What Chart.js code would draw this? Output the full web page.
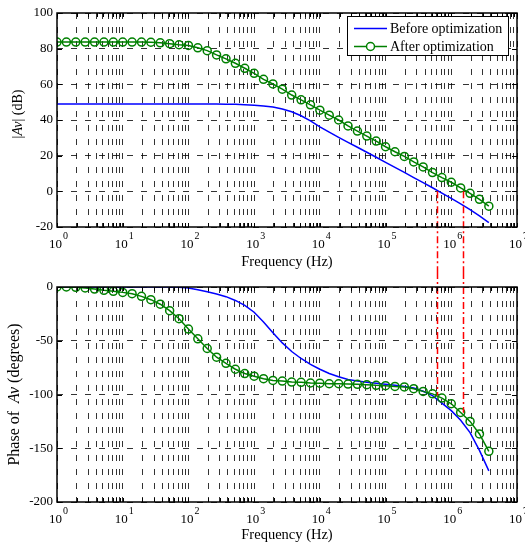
<!DOCTYPE html>
<html>
<head>
<meta charset="utf-8">
<script src="https://cdn.jsdelivr.net/npm/chart.js@4.4.1/dist/chart.umd.min.js"></script>
<style>
  body { margin: 0; background: #fff; }
  #wrap { position: relative; width: 525px; height: 544px; }
  canvas { position: absolute; left: 0; }
</style>
</head>
<body>
<div id="wrap">
  <canvas id="magChart" width="525" height="272" style="top:0"></canvas>
  <canvas id="phaseChart" width="525" height="272" style="top:272px"></canvas>
</div>
<script>
// frequency points (Hz), 7 per decade
const freq = [1, 1.389, 1.931, 2.683, 3.728, 5.179, 7.197,
  10, 13.89, 19.31, 26.83, 37.28, 51.79, 71.97,
  100, 138.9, 193.1, 268.3, 372.8, 517.9, 719.7,
  1000, 1389, 1931, 2683, 3728, 5179, 7197,
  1e4, 13890, 19310, 26830, 37280, 51790, 71970,
  1e5, 138900, 193100, 268300, 372800, 517900, 719700,
  1e6, 1389000, 1931000, 2683000, 3728000];

// |Av| in dB
const magBefore = [49, 49, 49, 49, 49, 49, 49,
  49, 49, 49, 49, 49, 49, 49,
  49, 49, 49, 49, 48.9, 48.8, 48.6,
  48.3, 47.9, 47.3, 46.2, 44.6, 42.4, 39.5,
  36.1, 33.2, 30.3, 27.5, 24.7, 21.9, 19.1,
  16.2, 13.4, 10.6, 7.7, 4.9, 2.0, -1.0,
  -4.0, -7.0, -10.3, -13.8, -17.5];
const magAfter = [83.7, 83.7, 83.7, 83.7, 83.7, 83.7, 83.7,
  83.7, 83.7, 83.7, 83.6, 83.3, 82.8, 82.2,
  81.8, 80.5, 78.9, 76.5, 74.3, 71.8, 69.0,
  66.2, 62.8, 60.2, 57.3, 54.0, 51.3, 48.5,
  45.5, 42.7, 40.0, 36.7, 33.8, 31.0, 28.2,
  25.0, 22.2, 19.6, 16.5, 13.7, 10.5, 7.7,
  5.1, 1.9, -1.1, -4.5, -8.3];

// phase of Av in degrees
const phaseBefore = [0, 0, 0, 0, 0, 0, 0,
  0, 0, 0, 0, 0, 0, -0.3,
  -1.0, -2.5, -4.5, -6.5, -9.0, -12.5, -17.0,
  -23.5, -32.5, -42.5, -52, -60, -66.5, -72,
  -76.5, -80.5, -83.5, -86, -87.5, -88.5, -89.5,
  -90.5, -91.5, -92.5, -94, -97, -101, -108,
  -115, -124, -135.5, -152, -171];
const phaseAfter = [0, 0, -0.3, -0.9, -1.9, -3.1, -4.0,
  -5.0, -6.2, -8.7, -11.8, -16, -22, -29.5,
  -39.1, -48.2, -57.2, -65.3, -71, -76.5, -80.5,
  -83, -85.3, -86.9, -87.5, -88.4, -88.7, -89.3,
  -89.5, -90, -90, -90.3, -90.5, -90.9, -91.5,
  -91.8, -92.5, -93.0, -94.6, -97.1, -99.4, -103.3,
  -108.6, -116.7, -125, -136.7, -152.9];

// red dash-dot markers: 0 dB crossings and the phase there
const crossFreq = [6.0e5, 1.5e6];
const crossMag = [0, 0];
const crossPhase = [-101, -117];

// x tick labels: 10 with exponent
const decades = [1, 10, 100, 1e3, 1e4, 1e5, 1e6, 1e7];
const decadeExps = ['0', '1', '2', '3', '4', '5', '6', '7'];

const serif = '"Liberation Serif", "Times New Roman", serif';
const tickFont = { family: serif, size: 13 };
const gridColor = 'rgba(0,0,0,0.8)';

// grid at every 1..9 x decade
const xGridTicks = [];
decades.slice(0, -1).forEach(d => { for (let m = 1; m <= 9; m++) xGridTicks.push(m * d); });
xGridTicks.push(1e7);

function pts(ys) { return freq.map((f, i) => ({ x: f, y: ys[i] })); }

// legend box drawn inside the plot, matlab style
const legendBox = {
  id: 'legendBox',
  afterDraw(chart, args, opts) {
    if (!opts.show) return;
    const ctx = chart.ctx, a = chart.chartArea;
    ctx.save();
    ctx.font = '14px ' + serif;
    const ds = chart.data.datasets;
    const w = Math.round(Math.max(...ds.map(d => ctx.measureText(d.label).width)) + 49);
    const h = 39;
    const x0 = Math.round(a.right - 9 - w), y0 = Math.round(a.top + 3);
    ctx.fillStyle = '#fff';
    ctx.fillRect(x0, y0, w, h);
    ctx.strokeStyle = '#000';
    ctx.lineWidth = 1;
    ctx.strokeRect(x0 + 0.5, y0 + 0.5, w, h);
    ds.forEach((d, i) => {
      const cy = y0 + 12.5 + i * 18;
      ctx.strokeStyle = d.borderColor;
      ctx.lineWidth = d.borderWidth;
      ctx.beginPath();
      ctx.moveTo(x0 + 7, cy);
      ctx.lineTo(x0 + 40, cy);
      ctx.stroke();
      if (d.pointRadius > 0) {
        ctx.lineWidth = d.pointBorderWidth;
        ctx.fillStyle = '#fff';
        ctx.beginPath();
        ctx.arc(x0 + 23.5, cy, d.pointRadius, 0, Math.PI * 2);
        ctx.fill();
        ctx.stroke();
      }
      ctx.fillStyle = '#000';
      ctx.textBaseline = 'middle';
      ctx.fillText(d.label, x0 + 43, cy + 1);
    });
    ctx.restore();
  }
};

// y title with italic parts
const yTitle = {
  id: 'yTitle',
  afterDraw(chart, args, opts) {
    const ctx = chart.ctx, a = chart.chartArea;
    const f = it => (it ? 'italic ' : '') + opts.size + 'px ' + serif;
    ctx.save();
    ctx.translate(opts.x, (a.top + a.bottom) / 2 + opts.dy);
    ctx.rotate(-Math.PI / 2);
    let total = 0;
    opts.parts.forEach(p => { ctx.font = f(p[1]); total += ctx.measureText(p[0]).width; });
    let x = -total / 2;
    ctx.fillStyle = '#000';
    ctx.textBaseline = 'middle';
    opts.parts.forEach(p => {
      ctx.font = f(p[1]);
      ctx.fillText(p[0], x, 0);
      x += ctx.measureText(p[0]).width;
    });
    ctx.restore();
  }
};

// "10" plus raised exponent under each decade
const decadeLabels = {
  id: 'decadeLabels',
  afterDraw(chart) {
    const ctx = chart.ctx, a = chart.chartArea, xs = chart.scales.x;
    ctx.save();
    ctx.fillStyle = '#000';
    ctx.textBaseline = 'alphabetic';
    decades.forEach((d, i) => {
      const px = xs.getPixelForValue(d);
      ctx.font = '13px ' + serif;
      ctx.textAlign = 'right';
      ctx.fillText('10', px + 5, a.bottom + 21);
      ctx.font = '10px ' + serif;
      ctx.textAlign = 'left';
      ctx.fillText(decadeExps[i], px + 6, a.bottom + 12);
    });
    ctx.restore();
  }
};

// box and inward ticks
const frame = {
  id: 'frame',
  afterDraw(chart) {
    const ctx = chart.ctx, a = chart.chartArea;
    const xs = chart.scales.x, ys = chart.scales.y;
    ctx.save();
    ctx.strokeStyle = '#000';
    ctx.lineWidth = 1;
    ctx.beginPath();
    xs.ticks.forEach(t => {
      const px = Math.round(xs.getPixelForValue(t.value)) + 0.5;
      ctx.moveTo(px, a.bottom); ctx.lineTo(px, a.bottom - 4);
      ctx.moveTo(px, a.top); ctx.lineTo(px, a.top + 4);
    });
    ys.ticks.forEach(t => {
      const py = Math.round(ys.getPixelForValue(t.value)) + 0.5;
      ctx.moveTo(a.left, py); ctx.lineTo(a.left + 5, py);
      ctx.moveTo(a.right, py); ctx.lineTo(a.right - 5, py);
    });
    ctx.stroke();
    ctx.lineWidth = 1.5;
    ctx.strokeRect(a.left, a.top, a.right - a.left, a.bottom - a.top);
    ctx.restore();
  }
};

// red dash-dot lines running between the two plots
const crossLines = {
  id: 'crossLines',
  afterDatasetsDraw(chart, args, opts) {
    const ctx = chart.ctx, xs = chart.scales.x, ys = chart.scales.y;
    ctx.save();
    ctx.strokeStyle = '#ff0000';
    ctx.lineWidth = 1.5;
    ctx.setLineDash([7, 3, 2, 3]);
    crossFreq.forEach((f, i) => {
      const px = Math.round(xs.getPixelForValue(f)) + 0.5;
      const py = ys.getPixelForValue(opts.values[i]);
      ctx.beginPath();
      if (opts.down) { ctx.moveTo(px, py); ctx.lineTo(px, chart.height); }
      else { ctx.moveTo(px, 0); ctx.lineTo(px, py); }
      ctx.stroke();
    });
    ctx.restore();
  }
};

function makeChart(id, before, after, yMin, yMax, yStep, cfg) {
  return new Chart(document.getElementById(id), {
    type: 'line',
    data: {
      datasets: [
        { label: 'Before optimization', data: pts(before), borderColor: '#0000ff', borderWidth: 1.5,
          pointRadius: 0, tension: 0, fill: false, order: 1 },
        { label: 'After optimization', data: pts(after), borderColor: '#008000', borderWidth: 1.5,
          pointRadius: 4, pointBorderWidth: 1.5, pointBorderColor: '#008000',
          pointBackgroundColor: 'rgba(0,0,0,0)', tension: 0, fill: false, order: 0 }
      ]
    },
    options: {
      responsive: false,
      devicePixelRatio: 1,
      animation: false,
      layout: { padding: { top: cfg.padTop, right: 8, left: 0, bottom: 0 } },
      scales: {
        x: {
          type: 'logarithmic',
          min: 1,
          max: 1e7,
          afterBuildTicks: s => { s.ticks = xGridTicks.map(v => ({ value: v })); },
          afterFit: s => { s.height = cfg.xHeight; s.paddingLeft = 0; s.paddingRight = 0; },
          ticks: { display: false, autoSkip: false, maxRotation: 0, minRotation: 0 },
          grid: { color: gridColor, lineWidth: 1, drawTicks: false },
          border: { display: false, dash: [6, 8] },
          title: { display: true, text: 'Frequency (Hz)', color: '#000',
                   font: { family: serif, size: 14.5 },
                   padding: { top: 0, bottom: cfg.titleBottom } }
        },
        y: {
          min: yMin,
          max: yMax,
          afterFit: s => { s.width = 57; s.paddingTop = 0; s.paddingBottom = 0; },
          ticks: { stepSize: yStep, color: '#000', font: tickFont, padding: 4 },
          grid: { color: gridColor, lineWidth: 1, drawTicks: false },
          border: { display: false, dash: [6, 8] }
        }
      },
      plugins: {
        legend: { display: false },
        tooltip: { enabled: false },
        legendBox: { show: cfg.legend },
        yTitle: cfg.title,
        crossLines: cfg.cross
      }
    },
    plugins: [crossLines, frame, decadeLabels, legendBox, yTitle]
  });
}

makeChart('magChart', magBefore, magAfter, -20, 100, 20, {
  padTop: 13, xHeight: 45, titleBottom: 1, legend: true,
  title: { parts: [['|', false], ['Av', true], ['| (dB)', false]], size: 14, x: 18, dy: -6 },
  cross: { values: crossMag, down: true }
});

makeChart('phaseChart', phaseBefore, phaseAfter, -200, 0, 50, {
  padTop: 15, xHeight: 42, titleBottom: 0, legend: false,
  title: { parts: [['Phase of  ', false], ['Av', true], [' (degrees)', false]], size: 16, x: 15, dy: 0 },
  cross: { values: crossPhase, down: false }
});
</script>
</body>
</html>
